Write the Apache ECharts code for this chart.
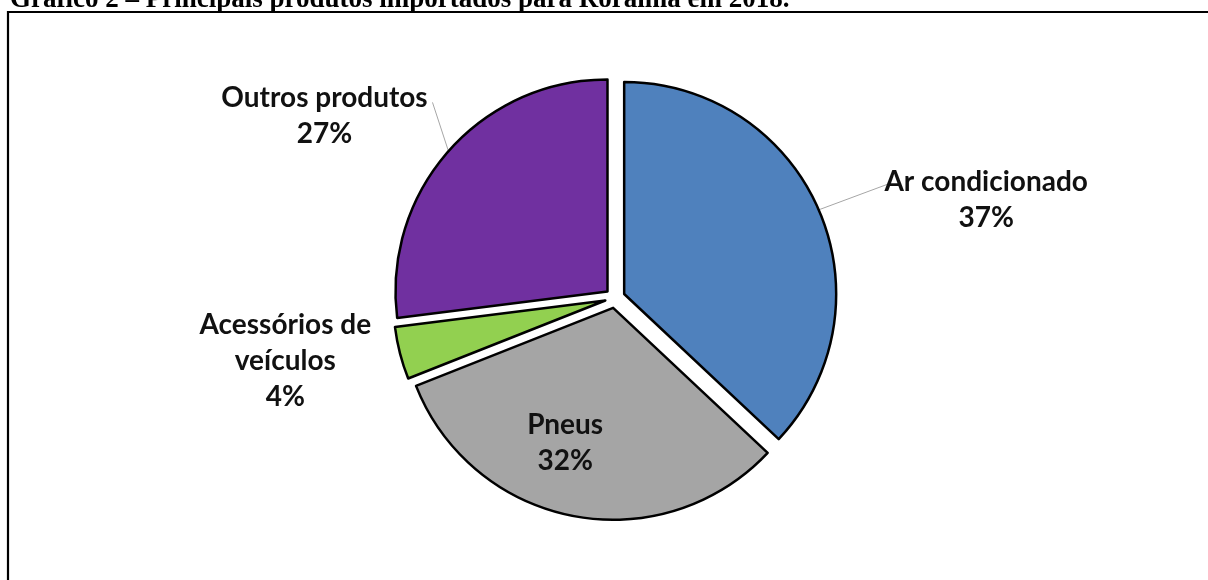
<!DOCTYPE html>
<html>
<head>
<meta charset="utf-8">
<script src="https://cdn.jsdelivr.net/npm/echarts@6/dist/echarts.min.js"></script>
<style>
  html, body { margin: 0; padding: 0; background: #fff; }
  #chart { width: 1208px; height: 580px; }
</style>
</head>
<body>
<div id="chart"></div>
<script>
const titleText = "Gráfico 2 – Principais produtos importados para Roraima em 2018.";
const categories = ["Ar condicionado", "Pneus", "Acessórios de\nveículos", "Outros produtos"];
const shares = [37, 32, 4, 27];
const colors = ["#4F81BD", "#A5A5A5", "#92D050", "#7030A0"];

// label block centres, and where the leader line should stop
const labelSpots = [
  { x: 977, y: 204, lineEnd: [879, 188] },
  { x: 567, y: 433 },
  { x: 295, y: 358 },
  { x: 332, y: 123, lineEnd: [440, 109] },
];

const chart = echarts.init(document.getElementById("chart"));

const data = categories.map((name, i) => ({
  name: name,
  value: shares[i],
  selected: true,
  itemStyle: { color: colors[i] },
  label: { position: i === 1 ? "inside" : "outside" },
  labelLine: { show: i === 0 || i === 3 },
}));

const option = {
  animation: false,
  graphic: [
    {
      type: "polyline",
      shape: { points: [[8, 580], [8, 12], [1208, 12]] },
      style: { stroke: "#000", lineWidth: 2.2, fill: null },
      silent: true,
    },
    {
      type: "text",
      x: 10,
      y: 14,
      style: {
        text: titleText,
        font: "bold 27px 'Liberation Serif'",
        fill: "#000",
        verticalAlign: "bottom",
      },
      silent: true,
    },
  ],
  series: [
    {
      type: "pie",
      center: [615, 298],
      radius: 212,
      startAngle: 90,
      clockwise: true,
      selectedMode: "multiple",
      selectedOffset: 10,
      emphasis: { disabled: true },
      itemStyle: { borderColor: "#000", borderWidth: 2.5 },
      select: { itemStyle: { borderColor: "#000", borderWidth: 2.5 } },
      label: {
        formatter: (p) => p.name + "\n" + p.value + "%",
        fontFamily: "Lato",
        fontWeight: "bold",
        fontSize: 28,
        lineHeight: 36,
        color: "#111",
      },
      labelLine: {
        lineStyle: { color: "#A6A6A6", width: 1 },
        length: 20,
        length2: 0,
      },
      labelLayout: (p) => {
        const s = labelSpots[p.dataIndex];
        const r = p.labelRect;
        const anchorX = p.align === "left" ? r.x : p.align === "right" ? r.x + r.width : r.x + r.width / 2;
        const out = {
          align: "center",
          dx: s.x - anchorX,
          dy: s.y - (r.y + r.height / 2),
        };
        if (s.lineEnd && p.labelLinePoints) {
          out.labelLinePoints = [p.labelLinePoints[0], s.lineEnd];
        }
        return out;
      },
      data: data,
    },
  ],
};

chart.setOption(option);
</script>
</body>
</html>
